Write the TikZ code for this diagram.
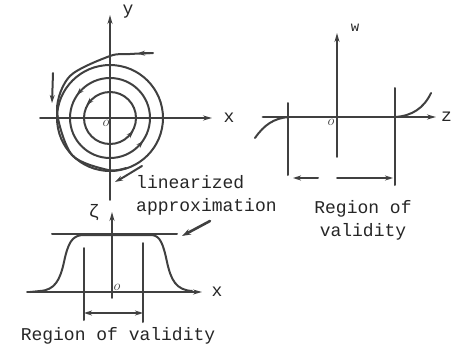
\documentclass[tikz,border=0pt]{standalone}
\usepackage{fontspec}
\setmainfont{Liberation Mono}
\usetikzlibrary{arrows.meta,decorations.markings}

\tikzset{
  ink/.style={draw=black!75, line width=2pt},
  axis/.style={ink, line width=1.7pt, -{Stealth[length=9pt,width=5pt]}},
  flowmarks/.style={ink, postaction=decorate, decoration={markings,
      mark=at position 0.125 with {\arrow{Stealth[length=7pt,width=5pt,reversed]}},
      mark=at position 0.625 with {\arrow{Stealth[length=7pt,width=5pt,reversed]}}}},
  lbl/.style={font=\fontsize{18}{23}\selectfont, text=black!85, inner sep=0pt},
  orig/.style={font=\fontsize{14}{14}\selectfont, text=black!75, inner sep=0pt}
}

\begin{document}
\begin{tikzpicture}[x=1pt, y=-1pt, line join=round, line cap=round]
  \useasboundingbox (0,0) rectangle (452,351);

  % phase plane
  \draw[axis] (40,118) -- (212,118);
  \draw[axis] (110,200) -- (110,15);
  \node[lbl] (xa) at (229,118) {x};
  \node[lbl] (ya) at (128,12) {y};
  \node[orig] (o1) at (106,123) {$o$};
  \draw[flowmarks] (110,118) circle (26);
  \draw[flowmarks] (110,118) circle (40);
  \draw[ink] (110,118) circle (53);
  \draw[ink] plot[smooth] coordinates {(153,53) (130,54) (110,56) (70,76) (57,110) (72,155) (108,170) (126,168)};
  \draw[ink, -{Stealth[length=8pt,width=5pt]}] (150,53) -- (137,53.5);
  \draw[ink, -{Stealth[length=8pt,width=5pt]}] (53,73) -- (52,103);
  \draw[ink, -{Stealth[length=8pt,width=5pt]}] (142,166) .. controls (132,172) and (124,177) .. (115,182);

  % w-z plot
  \draw[ink, line width=2.8pt, -{Stealth[length=9pt,width=5pt]}] (263,117) -- (436,117);
  \draw[axis] (337,157) -- (337,33);
  \node[lbl, anchor=west] (za) at (441,117) {z};
  \node[lbl, font=\fontsize{14}{14}\selectfont] (wa) at (355,28) {w};
  \node[orig] (o2) at (331,122) {$o$};
  \draw[ink] (255,138) .. controls (264,125) and (274,118) .. (289,117);
  \draw[ink] (395,117) .. controls (412,116) and (424,108) .. (431,93);
  \draw[ink] (288,103) -- (288,175);
  \draw[ink] (395,88) -- (395,185);
  \draw[ink, -{Stealth[length=8pt,width=5pt]}] (318,178) -- (293,178);
  \draw[ink, -{Stealth[length=8pt,width=5pt]}] (337,178) -- (393,178);
  \node[lbl, align=center] (reg1) at (363,220) {Region of\\validity};

  % linearized approximation
  \node[lbl, align=left, anchor=west] (lin) at (136,195) {linearized\\approximation};
  \draw[ink, line width=2.6pt, -{Stealth[length=9pt,width=6pt]}] (210,221) -- (182,236);

  % zeta-x plot
  \draw[axis] (27,292) -- (202,292);
  \draw[axis] (112,298) -- (112,212);
  \node[lbl] (xb) at (217,292) {x};
  \node[lbl] (zt) at (94,213) {ζ};
  \node[orig] (o3) at (117,287) {$o$};
  \draw[ink] (52,234) -- (177,234);
  \draw[ink] (30,292) -- (40,291) .. controls (55,290) and (60,280) .. (64,262)
    .. controls (68,243) and (72,236) .. (82,235) -- (152,235)
    .. controls (160,236) and (163,243) .. (167,262)
    .. controls (171,280) and (176,290) .. (192,291);
  \draw[ink] (84,248) -- (84,320);
  \draw[ink] (143,243) -- (143,322);
  \draw[ink, {Stealth[length=8pt,width=5pt]}-{Stealth[length=8pt,width=5pt]}] (84,313) -- (143,313);
  \node[lbl] (reg2) at (118,336) {Region of validity};
\end{tikzpicture}
\end{document}
